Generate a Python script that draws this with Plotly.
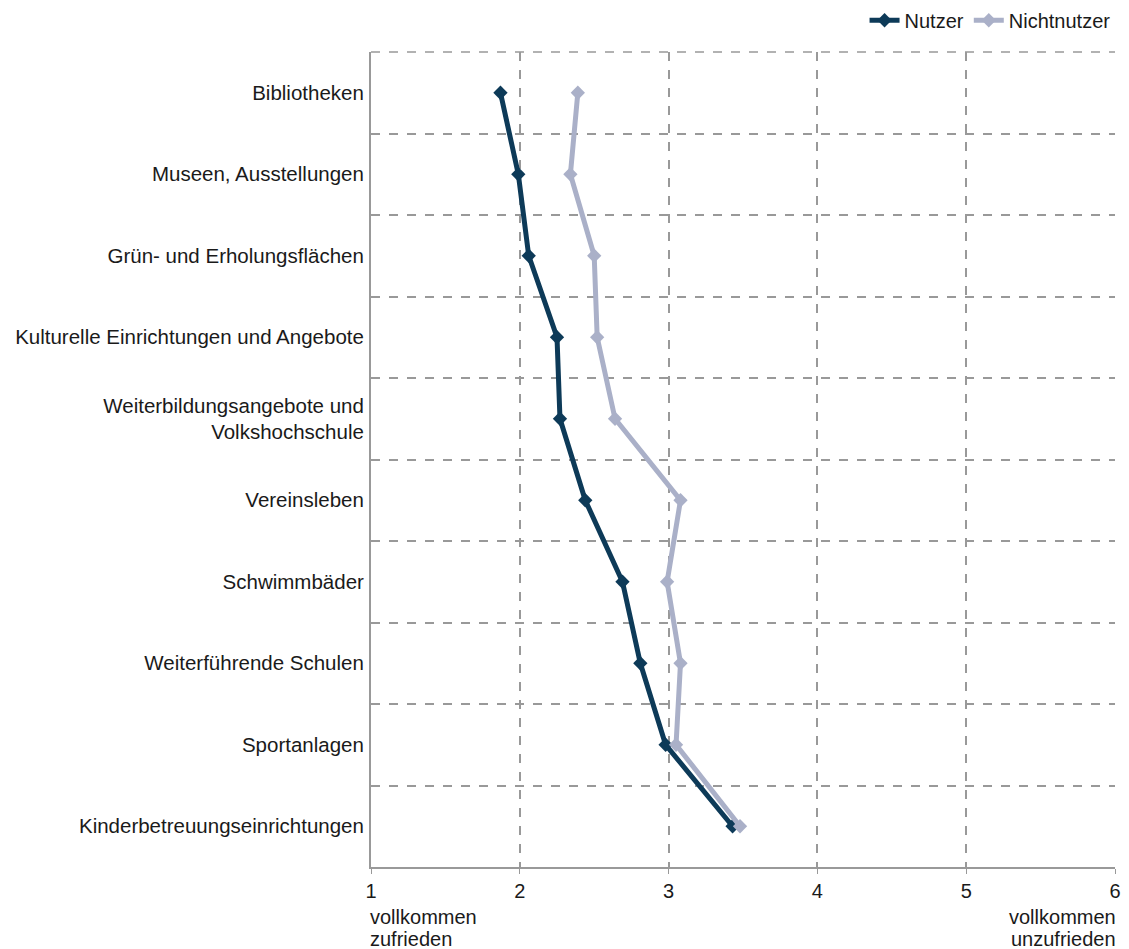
import plotly.graph_objects as go

categories = [
    "Bibliotheken",
    "Museen, Ausstellungen",
    "Grün- und Erholungsflächen",
    "Kulturelle Einrichtungen und Angebote",
    "Weiterbildungsangebote und<br>Volkshochschule",
    "Vereinsleben",
    "Schwimmbäder",
    "Weiterführende Schulen",
    "Sportanlagen",
    "Kinderbetreuungseinrichtungen",
]
nutzer = [1.87, 1.99, 2.06, 2.25, 2.27, 2.44, 2.69, 2.81, 2.98, 3.43]
nichtnutzer = [2.39, 2.34, 2.50, 2.52, 2.64, 3.08, 2.99, 3.08, 3.05, 3.48]
x_ticks = [1, 2, 3, 4, 5, 6]

FONT = "Liberation Sans, Arial, sans-serif"
TXT = "#1a1a1a"
W, H = 1121, 941  # page body adds an 8px margin

fig = go.Figure()
fig.add_trace(go.Scatter(
    x=nutzer, y=categories, name="Nutzer", mode="lines+markers",
    line=dict(color="#0d3a58", width=5),
    marker=dict(symbol="diamond", size=11, color="#0d3a58"),
))
fig.add_trace(go.Scatter(
    x=nichtnutzer, y=categories, name="Nichtnutzer", mode="lines+markers",
    line=dict(color="#aab0c8", width=5),
    marker=dict(symbol="diamond", size=11, color="#aab0c8"),
))

fig.update_layout(
    width=W, height=H,
    margin=dict(l=363, r=14, t=44, b=82, pad=0, autoexpand=False),
    paper_bgcolor="white", plot_bgcolor="white",
    font=dict(family=FONT, size=20.5, color=TXT),
    legend=dict(orientation="h", xref="container", yref="container",
                x=0.988, xanchor="right", y=0.987, yanchor="middle",
                font=dict(size=20, color=TXT), tracegroupgap=0,
                bgcolor="rgba(0,0,0,0)"),
    showlegend=True,
)
fig.update_xaxes(
    range=[1, 6], tickvals=x_ticks, ticktext=[str(v) for v in x_ticks],
    showgrid=True, gridcolor="#999", griddash="dash", gridwidth=1.5,
    showline=True, linecolor="#999", linewidth=2, zeroline=False,
    ticks="outside", ticklen=5, tickcolor="#999",
    tickfont=dict(size=20, color=TXT), automargin=False,
)
fig.update_yaxes(
    type="category", range=[9.5, -0.5], tickson="boundaries",
    showgrid=True, gridcolor="#999", griddash="dash", gridwidth=1.5,
    showline=True, linecolor="#999", linewidth=2,
    ticks="", ticklabelstandoff=1, automargin=False,
    tickfont=dict(size=20.5, color=TXT),
)
# dashed top frame line (plot-area border)
fig.add_shape(type="line", xref="paper", yref="paper", x0=0, x1=1, y0=1, y1=1,
              line=dict(color="#999", width=1.5, dash="dash"), layer="below")
for txt, dy in (("vollkommen", -50), ("zufrieden", -72)):
    fig.add_annotation(x=1, y=0, xref="x", yref="paper", yshift=dy,
                       text=txt, showarrow=False,
                       xanchor="left", yanchor="middle", xshift=-3,
                       font=dict(size=20, color=TXT))
for txt, dy in (("vollkommen", -50), ("unzufrieden", -72)):
    fig.add_annotation(x=6, y=0, xref="x", yref="paper", yshift=dy,
                       text=txt, showarrow=False,
                       xanchor="right", yanchor="middle", xshift=3,
                       font=dict(size=20, color=TXT))

fig.write_html("out.html")
